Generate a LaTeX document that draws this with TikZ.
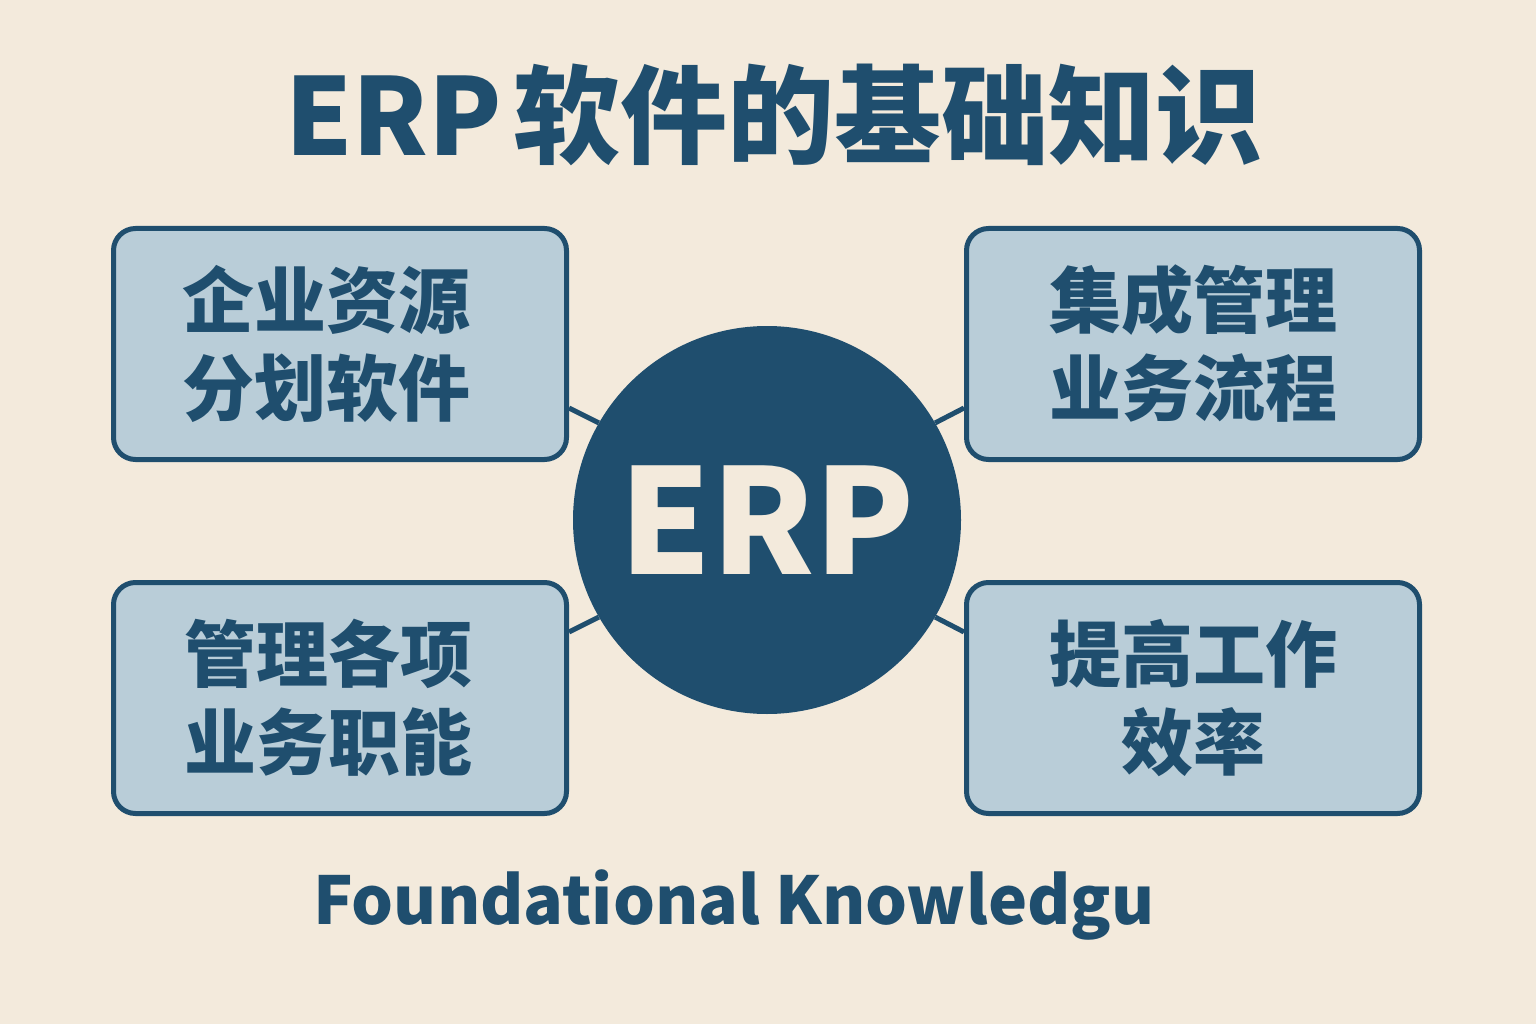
\documentclass[tikz,border=0pt]{standalone}
\usepackage{fontspec}
\setmainfont{Noto Sans CJK SC}
\usepackage{tikz}

\definecolor{paper}{HTML}{F3EADC}
\definecolor{erpblue}{HTML}{1F4E6E}
\definecolor{boxfill}{HTML}{B9CDD8}

\begin{document}
\begin{tikzpicture}[x=1pt,y=-1pt,
  infobox/.style={draw=erpblue,line width=5pt,fill=boxfill,rounded corners=22pt,
    minimum width=453pt,minimum height=231pt,inner sep=0pt,align=center,
    text=erpblue,font=\fontsize{72}{88}\selectfont\bfseries},
  link/.style={draw=erpblue,line width=5pt}]
\useasboundingbox (0,0) rectangle (1536,1024);
\fill[paper] (0,0) rectangle (1536,1024);
% title:
\node (title) at (774,115) [text=erpblue,font=\fontsize{107}{120}\selectfont\bfseries] {ERP\kern12pt 软件的基础知识};
% centre:
\node (erp) at (767,520) [circle,fill=erpblue,minimum size=388pt,inner sep=0pt,
  text=paper,font=\fontsize{146}{146}\selectfont\bfseries] {ERP};
% boxes:
\node (lt) at (340,344) [infobox] {企业资源\hspace*{28pt}\\分划软件\hspace*{28pt}};
\node (rt) at (1193,344) [infobox] {集成管理\\业务流程};
\node (lb) at (340,698) [infobox] {管理各项\hspace*{24pt}\\业务职能\hspace*{24pt}};
\node (rb) at (1193,698) [infobox] {提高工作\\效率};
% links:
\draw[link] (erp.150) -- ([yshift=-64pt]lt.east);
\draw[link] (erp.30) -- ([yshift=-64pt]rt.west);
\draw[link] (erp.210) -- ([yshift=66pt]lb.east);
\draw[link] (erp.330) -- ([yshift=66pt]rb.west);
% footer:
\node (foot) at (734,905) [text=erpblue,font=\fontsize{66}{76}\selectfont\bfseries] {Foundational Knowledgu};
\end{tikzpicture}
\end{document}
